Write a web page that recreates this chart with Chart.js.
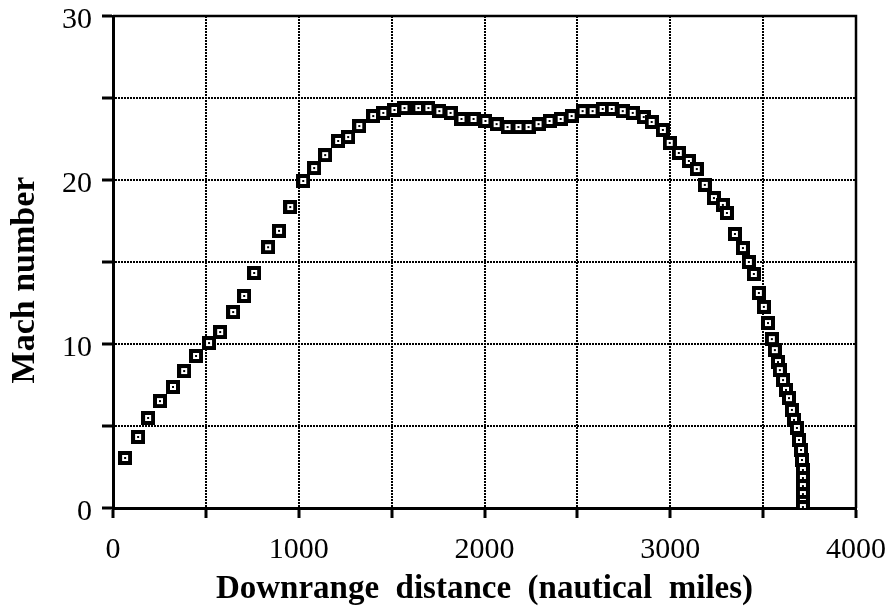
<!DOCTYPE html>
<html>
<head>
<meta charset="utf-8">
<script src="https://cdn.jsdelivr.net/npm/chart.js@4/dist/chart.umd.min.js"></script>
<style>
  html, body { margin: 0; padding: 0; background: #fff; }
</style>
</head>
<body>
<canvas id="c" width="890" height="606"></canvas>
<script>
// Entry trajectory: downrange distance (nautical miles) vs Mach number
const distance = [
  65, 135, 189, 253, 323, 383, 447, 517, 577, 647,
  706, 760, 835, 894, 954, 1024, 1083, 1142, 1212, 1266,
  1326, 1401, 1455, 1515, 1569, 1644, 1698, 1757, 1817, 1876,
  1941, 2005, 2065, 2124, 2183, 2237, 2291, 2350, 2410, 2469,
  2528, 2582, 2636, 2685, 2744, 2798, 2857, 2900, 2960, 2997,
  3046, 3100, 3143, 3186, 3235, 3283, 3305, 3348, 3391, 3423,
  3450, 3477, 3504, 3526, 3547, 3563, 3580, 3590, 3607, 3623,
  3639, 3655, 3666, 3682, 3693, 3704, 3709, 3714, 3714, 3714,
  3714, 3714, 3714
];
const mach = [
  3.05, 4.33, 5.49, 6.52, 7.38, 8.35, 9.27, 10.06, 10.73, 11.95,
  12.93, 14.33, 15.9, 16.9, 18.35, 19.94, 20.73, 21.52, 22.38, 22.62,
  23.29, 23.9, 24.09, 24.27, 24.39, 24.39, 24.39, 24.2, 24.09, 23.72,
  23.72, 23.6, 23.41, 23.23, 23.23, 23.23, 23.41, 23.6, 23.72, 23.9,
  24.2, 24.2, 24.33, 24.33, 24.2, 24.09, 23.84, 23.54, 23.05, 22.26,
  21.65, 21.16, 20.67, 19.7, 18.9, 18.48, 17.99, 16.71, 15.85, 15.0,
  14.27, 13.11, 12.26, 11.28, 10.3, 9.63, 8.9, 8.41, 7.8, 7.2,
  6.7, 5.98, 5.37, 4.88, 4.15, 3.54, 2.93, 2.32, 1.83, 1.34,
  0.85, 0.37, 0.06
];

// Axis tick labels that are printed (grid lines run at every half step)
const xTickLabels = [0, 1000, 2000, 3000, 4000];
const yTickLabels = [0, 10, 20, 30];
const yTitle = 'Mach number';

const serif = '"Liberation Serif", "Times New Roman", serif';

// Square marker with a white centre and a dot
function makeMarker() {
  const s = 14;
  const cv = document.createElement('canvas');
  cv.width = s; cv.height = s;
  const g = cv.getContext('2d');
  g.fillStyle = '#000';
  g.fillRect(0, 0, s, s);
  g.fillStyle = '#fff';
  g.fillRect(4, 4, 6, 6);
  g.fillStyle = '#000';
  g.fillRect(6, 6, 2, 2);
  return cv;
}

// Solid frame on the top and right of the plot area
const frame = {
  id: 'frame',
  afterDatasetsDraw(chart) {
    const { ctx, chartArea: a } = chart;
    ctx.save();
    ctx.strokeStyle = '#000';
    ctx.lineWidth = 2.5;
    ctx.beginPath();
    ctx.moveTo(a.left, a.top);
    ctx.lineTo(a.right, a.top);
    ctx.lineTo(a.right, a.bottom);
    ctx.stroke();
    ctx.restore();
  }
};

// Vertical axis title, set a little below the middle of the axis
const sideTitle = {
  id: 'sideTitle',
  afterDraw(chart) {
    const { ctx, chartArea: a } = chart;
    ctx.save();
    ctx.translate(25, (a.top + a.bottom) / 2 + 18);
    ctx.rotate(-Math.PI / 2);
    ctx.fillStyle = '#000';
    ctx.font = 'bold 34px ' + serif;
    ctx.textAlign = 'center';
    ctx.textBaseline = 'middle';
    ctx.fillText(yTitle, 0, 0);
    ctx.restore();
  }
};

new Chart(document.getElementById('c'), {
  type: 'scatter',
  data: {
    datasets: [{
      data: distance.map((d, i) => ({ x: d, y: mach[i] })),
      pointStyle: makeMarker(),
      pointRadius: 7,
      pointHoverRadius: 7
    }]
  },
  options: {
    responsive: false,
    animation: false,
    events: [],
    layout: { padding: { top: 16, right: 34, left: 0, bottom: 0 } },
    plugins: { legend: { display: false }, tooltip: { enabled: false } },
    scales: {
      x: {
        type: 'linear',
        min: 0, max: 4000,
        afterFit(scale) {
          scale.height = 98;
          scale.paddingLeft = 0;
          scale.paddingRight = 0;
        },
        ticks: {
          stepSize: 500,
          maxRotation: 0,
          autoSkip: false,
          padding: 14,
          color: '#000',
          font: { family: serif, size: 30 },
          callback: v => xTickLabels.includes(v) ? String(v) : ''
        },
        grid: {
          color: '#000', lineWidth: 2,
          tickColor: '#000', tickWidth: 3, tickLength: 10
        },
        border: { display: true, color: '#000', width: 3, dash: [2, 1] },
        title: {
          display: true,
          text: 'Downrange  distance  (nautical  miles)',
          color: '#000',
          font: { family: serif, size: 33, weight: 'bold', lineHeight: 1 },
          padding: { top: 0, bottom: 0 }
        }
      },
      y: {
        type: 'linear',
        min: 0, max: 30,
        afterFit(scale) {
          scale.width = 113;
          scale.paddingTop = 0;
          scale.paddingBottom = 0;
        },
        ticks: {
          stepSize: 5,
          autoSkip: false,
          padding: 10,
          labelOffset: 4,
          color: '#000',
          font: { family: serif, size: 30, lineHeight: 1 },
          callback: v => yTickLabels.includes(v) ? String(v) : ''
        },
        grid: {
          color: '#000', lineWidth: 2,
          tickColor: '#000', tickWidth: 3, tickLength: 11
        },
        border: { display: true, color: '#000', width: 3, dash: [2, 1] },
        title: { display: false }
      }
    }
  },
  plugins: [frame, sideTitle]
});
</script>
</body>
</html>
